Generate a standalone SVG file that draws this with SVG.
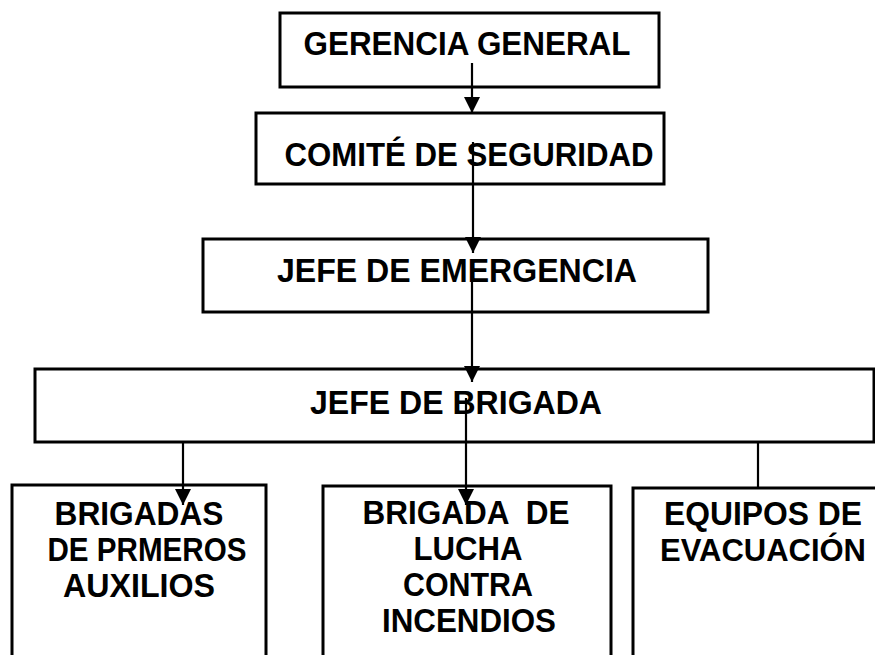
<svg xmlns="http://www.w3.org/2000/svg" width="875" height="655" viewBox="0 0 875 655">
<style>
.box{fill:#fff;stroke:#000;stroke-width:3}
.lbl{font-family:"Liberation Sans",Arial,sans-serif;font-weight:bold;font-size:33px;fill:#000;text-anchor:middle}
.con{stroke:#000;stroke-width:2.2;fill:none}
</style>
<defs>
<marker id="ah" markerWidth="16" markerHeight="16" viewBox="0 0 16 16" refX="16" refY="8" orient="auto" markerUnits="userSpaceOnUse">
<path d="M0,0 L16,8 L0,16 Z" fill="#000"/>
</marker>
</defs>
<rect width="875" height="655" fill="#fff"/>
<g id="gerencia">
<rect class="box" x="280" y="13" width="379" height="74"/>
<text class="lbl" x="467" y="55" textLength="327" lengthAdjust="spacingAndGlyphs">GERENCIA GENERAL</text>
</g>
<g id="comite">
<rect class="box" x="256" y="113" width="408" height="71"/>
<text class="lbl" x="469" y="166" textLength="369" lengthAdjust="spacingAndGlyphs">COMITÉ DE SEGURIDAD</text>
</g>
<g id="emergencia">
<rect class="box" x="203" y="239" width="505" height="73"/>
<text class="lbl" x="457" y="282" textLength="360" lengthAdjust="spacingAndGlyphs">JEFE DE EMERGENCIA</text>
</g>
<g id="brigada">
<rect class="box" x="35" y="369" width="839" height="73"/>
<text class="lbl" x="456" y="414" textLength="292" lengthAdjust="spacingAndGlyphs">JEFE DE BRIGADA</text>
</g>
<g id="primeros">
<rect class="box" x="12" y="485" width="254" height="180"/>
<text class="lbl" x="139" y="525" textLength="169" lengthAdjust="spacingAndGlyphs">BRIGADAS</text>
<text class="lbl" x="147" y="561" textLength="199" lengthAdjust="spacingAndGlyphs">DE PRMEROS</text>
<text class="lbl" x="139" y="597" textLength="152" lengthAdjust="spacingAndGlyphs">AUXILIOS</text>
</g>
<g id="incendios">
<rect class="box" x="323" y="486" width="288" height="180"/>
<text class="lbl" x="466" y="524" xml:space="preserve" textLength="207" lengthAdjust="spacingAndGlyphs">BRIGADA  DE</text>
<text class="lbl" x="468" y="560" textLength="109" lengthAdjust="spacingAndGlyphs">LUCHA</text>
<text class="lbl" x="468" y="596" textLength="130" lengthAdjust="spacingAndGlyphs">CONTRA</text>
<text class="lbl" x="469" y="632" textLength="174" lengthAdjust="spacingAndGlyphs">INCENDIOS</text>
</g>
<g id="evacuacion">
<path class="box" d="M875,488 H633 V655"/>
<text class="lbl" x="763" y="525" textLength="198" lengthAdjust="spacingAndGlyphs">EQUIPOS DE</text>
<text class="lbl" x="763" y="561" style="font-size:31px" textLength="206" lengthAdjust="spacingAndGlyphs">EVACUACIÓN</text>
</g>
<g id="connectors">
<line class="con" x1="472" y1="63" x2="472" y2="113" marker-end="url(#ah)"/>
<line class="con" x1="473" y1="142" x2="473" y2="253" marker-end="url(#ah)"/>
<line class="con" x1="472" y1="276" x2="472" y2="382" marker-end="url(#ah)"/>
<line class="con" x1="183" y1="442" x2="183" y2="505" marker-end="url(#ah)"/>
<line class="con" x1="466" y1="398" x2="466" y2="505" marker-end="url(#ah)"/>
<line class="con" x1="758" y1="442" x2="758" y2="488"/>
</g>
</svg>
